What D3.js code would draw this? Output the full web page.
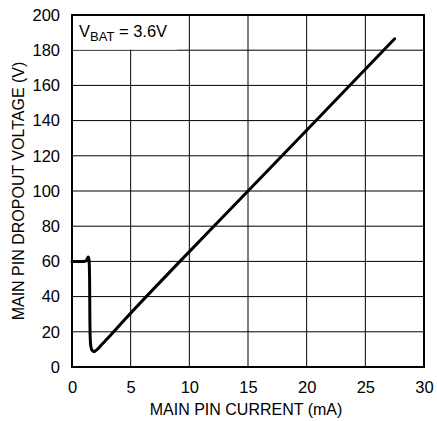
<!DOCTYPE html>
<html>
<head>
<meta charset="utf-8">
<script src="https://cdn.jsdelivr.net/npm/d3@7"></script>
<style>
  body { margin: 0; background: #fff; }
  text { font-family: "Liberation Sans", Arial, sans-serif; fill: #000; }
</style>
</head>
<body>
<div id="chart"></div>
<script>
// current (mA) vs dropout voltage (V)
const currentMA = [0, 1.0, 1.2, 1.3, 1.38, 1.45, 1.5, 1.52, 1.55, 1.6, 1.7, 1.85, 2.0, 2.2, 2.5, 3.0, 4.5, 9.2, 15, 20, 27.5];
const voltageV  = [60, 60, 60.3, 61.5, 62.5, 61, 50, 30, 17, 12, 9.6, 8.8, 9.2, 10.3, 12.5, 16, 27, 60, 100, 134.5, 186.5];

const xTicks = [0, 5, 10, 15, 20, 25, 30];
const yTicks = [0, 20, 40, 60, 80, 100, 120, 140, 160, 180, 200];

const width = 437;
const height = 421;
const plot = {left: 72, top: 15, right: 424, bottom: 367};

const svg = d3.select("#chart")
    .append("svg")
    .attr("width", width)
    .attr("height", height);

const x = d3.scaleLinear().domain([0, 30]).range([plot.left, plot.right]);
const y = d3.scaleLinear().domain([0, 200]).range([plot.bottom, plot.top]);

// grid
const grid = svg.append("g").attr("stroke", "#000").attr("stroke-width", 1);
grid.selectAll(".vx")
    .data(xTicks.slice(1, -1))
    .join("line")
    .attr("x1", d => x(d)).attr("x2", d => x(d))
    .attr("y1", plot.top).attr("y2", plot.bottom);
grid.selectAll(".hy")
    .data(yTicks.slice(1, -1))
    .join("line")
    .attr("x1", plot.left).attr("x2", plot.right)
    .attr("y1", d => y(d)).attr("y2", d => y(d));

// label box hides the grid under it
svg.append("rect")
    .attr("x", plot.left + 1).attr("y", plot.top + 1)
    .attr("width", 104).attr("height", y(180) - plot.top - 1.5)
    .attr("fill", "#fff");

const label = svg.append("text")
    .attr("x", plot.left + 7)
    .attr("y", 37)
    .attr("font-size", 16.5);
label.append("tspan").text("V");
label.append("tspan").attr("dy", 3.5).attr("font-size", 13).text("BAT");
label.append("tspan").attr("dy", -3.5).text(" = 3.6V");

// frame
svg.append("rect")
    .attr("x", plot.left).attr("y", plot.top)
    .attr("width", plot.right - plot.left)
    .attr("height", plot.bottom - plot.top)
    .attr("fill", "none")
    .attr("stroke", "#000")
    .attr("stroke-width", 2);

// axes (labels only)
const xAxis = svg.append("g")
    .attr("transform", `translate(0, ${plot.bottom})`)
    .call(d3.axisBottom(x).tickValues(xTicks).tickSize(0).tickPadding(14));
const yAxis = svg.append("g")
    .attr("transform", `translate(${plot.left}, 0)`)
    .call(d3.axisLeft(y).tickValues(yTicks).tickSize(0).tickPadding(12));
[xAxis, yAxis].forEach(a => {
    a.select(".domain").remove();
    a.selectAll("text")
        .attr("font-size", 16.5)
        .attr("font-family", null);
});

svg.append("text")
    .attr("text-anchor", "middle")
    .attr("x", 246)
    .attr("y", 415)
    .attr("font-size", 16)
    .text("MAIN PIN CURRENT (mA)");

svg.append("text")
    .attr("text-anchor", "middle")
    .attr("transform", "rotate(-90)")
    .attr("x", -191)
    .attr("y", 24)
    .attr("font-size", 16)
    .text("MAIN PIN DROPOUT VOLTAGE (V)");

// curve
const pts = currentMA.map((c, i) => [c, voltageV[i]]);
svg.append("path")
    .datum(pts)
    .attr("fill", "none")
    .attr("stroke", "#000")
    .attr("stroke-width", 3)
    .attr("stroke-linejoin", "round")
    .attr("stroke-linecap", "round")
    .attr("d", d3.line().x(d => x(d[0])).y(d => y(d[1])).curve(d3.curveMonotoneX));
</script>
</body>
</html>
